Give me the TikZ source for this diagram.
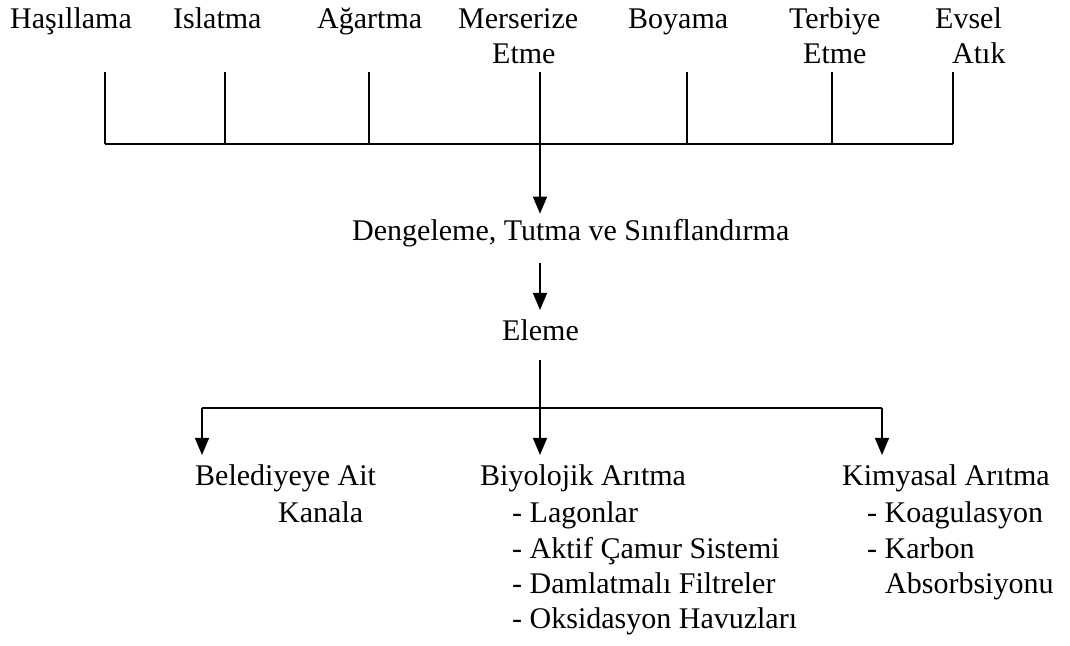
\documentclass[tikz,border=0pt]{standalone}
\usepackage{fontspec}
\setmainfont{Liberation Serif}
\usetikzlibrary{arrows.meta}
\begin{document}
\begin{tikzpicture}[x=1pt,y=-1pt,
  lbl/.style={inner sep=0pt,anchor=base west,font=\fontsize{30}{35}\selectfont},
  ln/.style={line width=1.5pt},
  arr/.style={line width=1.5pt,-{Triangle[width=14pt,length=17pt]}}]
\useasboundingbox (0,0) rectangle (1070,645);
% top row
\node[lbl] (has) at (10,28) {Haşıllama};
\node[lbl] (isl) at (173,28) {Islatma};
\node[lbl] (aga) at (317,28) {Ağartma};
\node[lbl] (mer) at (458,28) {Merserize};
\node[lbl] (mer2) at (492,63) {Etme};
\node[lbl] (boy) at (628,28) {Boyama};
\node[lbl] (ter) at (789,28) {Terbiye};
\node[lbl] (ter2) at (803,63) {Etme};
\node[lbl] (evs) at (935,28) {Evsel};
\node[lbl] (evs2) at (952,63) {Atık};
% collector
\coordinate (t1) at (105,72);  \coordinate (b1) at (105,144);
\coordinate (t2) at (225,72);  \coordinate (b2) at (225,144);
\coordinate (t3) at (369,72);  \coordinate (b3) at (369,144);
\coordinate (t4) at (540,72);  \coordinate (b4) at (540,144);
\coordinate (t5) at (687,72);  \coordinate (b5) at (687,144);
\coordinate (t6) at (832,72);  \coordinate (b6) at (832,144);
\coordinate (t7) at (953,72);  \coordinate (b7) at (953,144);
\foreach \i in {1,...,7}{\draw[ln] (t\i) -- (b\i);}
\draw[ln] (b1) -- (b7);
% middle
\node[lbl] (deng) at (352,240) {Dengeleme, Tutma ve Sınıflandırma};
\node[lbl] (elm) at (502,340) {Eleme};
\draw[arr] (b4) -- ([yshift=5pt]deng.north -| b4);
\draw[arr] ([yshift=-16pt]deng.south -| b4) -- ([yshift=9pt]elm.north -| b4);
% bottom
\node[lbl] (bel) at (195,485) {Belediyeye Ait};
\node[lbl] (bel2) at (278,522) {Kanala};
\node[lbl] (bio) at (480,485) {Biyolojik Arıtma};
\node[lbl] (bio1) at (512,522) {- Lagonlar};
\node[lbl] (bio2) at (512,558) {- Aktif Çamur Sistemi};
\node[lbl] (bio3) at (512,593) {- Damlatmalı Filtreler};
\node[lbl] (bio4) at (512,628) {- Oksidasyon Havuzları};
\node[lbl] (kim) at (842,485) {Kimyasal Arıtma};
\node[lbl] (kim1) at (867,522) {- Koagulasyon};
\node[lbl] (kim2) at (867,558) {- Karbon};
\node[lbl] (kim3) at (885,593) {Absorbsiyonu};
\coordinate (sL) at (202,408);
\coordinate (sM) at (540,408);
\coordinate (sR) at (882,408);
\draw[ln] ([yshift=-20pt]elm.south -| b4) -- (sM);
\draw[ln] (sL) -- (sR);
\draw[arr] (sL) -- ([yshift=9pt]bel.north -| sL);
\draw[arr] (sM) -- ([yshift=9pt]bio.north -| sM);
\draw[arr] (sR) -- ([yshift=9pt]kim.north -| sR);
\end{tikzpicture}
\end{document}
